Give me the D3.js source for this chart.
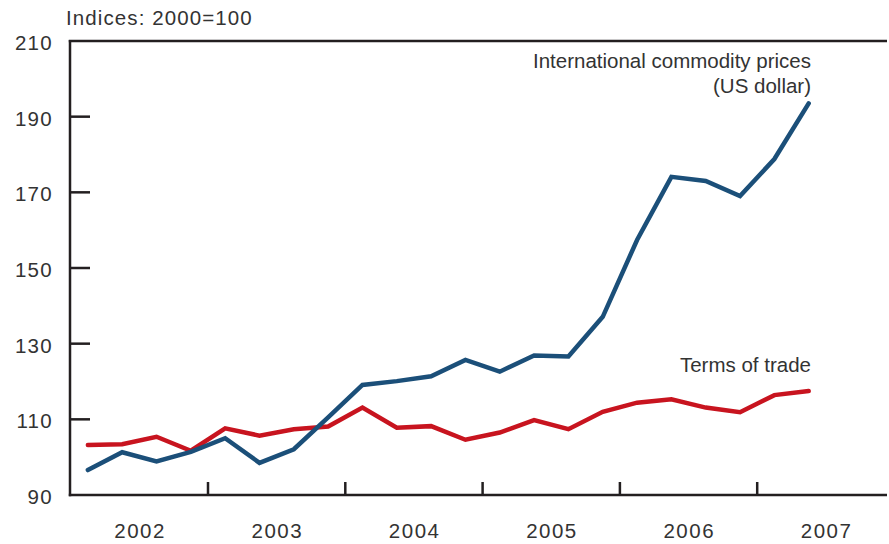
<!DOCTYPE html>
<html>
<head>
<meta charset="utf-8">
<script src="https://cdn.jsdelivr.net/npm/d3@7"></script>
<style>
body { margin: 0; background: #fff; }
text { font-family: "Liberation Sans", Arial, sans-serif; fill: #333; }
</style>
</head>
<body>
<svg id="chart" width="889" height="544"></svg>
<script>
const quarters = [
  "2002Q1","2002Q2","2002Q3","2002Q4",
  "2003Q1","2003Q2","2003Q3","2003Q4",
  "2004Q1","2004Q2","2004Q3","2004Q4",
  "2005Q1","2005Q2","2005Q3","2005Q4",
  "2006Q1","2006Q2","2006Q3","2006Q4",
  "2007Q1","2007Q2"
];
const commodityPrices = [
  96.6, 101.3, 98.9, 101.4,
  105.0, 98.5, 102.1, 110.5,
  119.1, 120.1, 121.4, 125.7,
  122.6, 126.9, 126.6, 137.1,
  157.4, 174.1, 173.0, 169.0,
  178.8, 193.5
];
const termsOfTrade = [
  103.2, 103.4, 105.4, 101.7,
  107.6, 105.7, 107.4, 108.1,
  113.1, 107.8, 108.2, 104.6,
  106.5, 109.8, 107.4, 112.0,
  114.4, 115.3, 113.1, 111.9,
  116.4, 117.5
];
const years = ["2002","2003","2004","2005","2006","2007"];
const yTicks = [90, 110, 130, 150, 170, 190, 210];

(function () {
const svg = d3.select("#chart");
const mLeft = 70, mRight = 887, mTop = 41, mBottom = 495;
const yearW = 137.3;
const fs = 20.5;

// continuous time in quarters: 0 = start of 2002
const x = d3.scaleLinear().domain([0, 24]).range([mLeft + 0.7, mLeft + 0.7 + yearW * 6]);
const y = d3.scaleLinear().domain([90, 210]).range([mBottom, mTop]);

const qPos = i => x(i + 0.5);

// lines
const line = d3.line().x((d, i) => qPos(i)).y(d => y(d));
svg.append("path").datum(termsOfTrade)
  .attr("d", line).attr("fill", "none")
  .attr("stroke", "#c8141f").attr("stroke-width", 4.5)
  .attr("stroke-linejoin", "miter").attr("stroke-linecap", "round");
svg.append("path").datum(commodityPrices)
  .attr("d", line).attr("fill", "none")
  .attr("stroke", "#1b4f79").attr("stroke-width", 4.5)
  .attr("stroke-linejoin", "miter").attr("stroke-linecap", "round");

// axes frame
const axisColor = "#231f20";
svg.append("line").attr("x1", mLeft).attr("x2", mLeft).attr("y1", mTop - 1).attr("y2", mBottom + 1.2)
  .attr("stroke", axisColor).attr("stroke-width", 2.5);
svg.append("line").attr("x1", mLeft - 1.2).attr("x2", mRight).attr("y1", mTop).attr("y2", mTop)
  .attr("stroke", axisColor).attr("stroke-width", 2.5);
svg.append("line").attr("x1", mLeft - 1.2).attr("x2", mRight).attr("y1", mBottom).attr("y2", mBottom)
  .attr("stroke", axisColor).attr("stroke-width", 2.5);

// y ticks
const yAxis = d3.axisLeft(y).tickValues(yTicks).tickSize(0).tickPadding(17);
const gy = svg.append("g").attr("transform", `translate(${mLeft},0)`).call(yAxis);
gy.select(".domain").remove();
gy.selectAll("text").attr("font-size", fs).attr("fill", "#333")
  .attr("letter-spacing", 1.3)
  .attr("font-family", "Liberation Sans, Arial, sans-serif").attr("dy", "0.42em");
svg.selectAll(".ytick").data(yTicks.filter(v => v > 90 && v < 210)).enter()
  .append("line").attr("class", "ytick")
  .attr("x1", mLeft).attr("x2", mLeft + 20)
  .attr("y1", d => y(d)).attr("y2", d => y(d))
  .attr("stroke", axisColor).attr("stroke-width", 2.5);

// x ticks at year boundaries
const boundaries = d3.range(1, 6).map(i => i * 4);
svg.selectAll(".xtick").data(boundaries).enter()
  .append("line").attr("class", "xtick")
  .attr("x1", d => x(d)).attr("x2", d => x(d))
  .attr("y1", mBottom).attr("y2", mBottom - 13)
  .attr("stroke", axisColor).attr("stroke-width", 2.5);

// year labels
svg.selectAll(".year").data(years).enter()
  .append("text").attr("class", "year")
  .attr("x", (d, i) => x(i * 4 + 2) + 0.7)
  .attr("y", 538)
  .attr("text-anchor", "middle")
  .attr("font-size", fs)
  .attr("letter-spacing", 1.5)
  .text(d => d);

// titles and labels
svg.append("text").attr("x", 66).attr("y", 25).attr("font-size", fs)
  .attr("letter-spacing", 1.1).text("Indices: 2000=100");
svg.append("text").attr("x", 811).attr("y", 68).attr("text-anchor", "end").attr("font-size", fs)
  .text("International commodity prices");
svg.append("text").attr("x", 811).attr("y", 93).attr("text-anchor", "end").attr("font-size", fs)
  .text("(US dollar)");
svg.append("text").attr("x", 811).attr("y", 372).attr("text-anchor", "end").attr("font-size", fs)
  .text("Terms of trade");
})();
</script>
</body>
</html>
